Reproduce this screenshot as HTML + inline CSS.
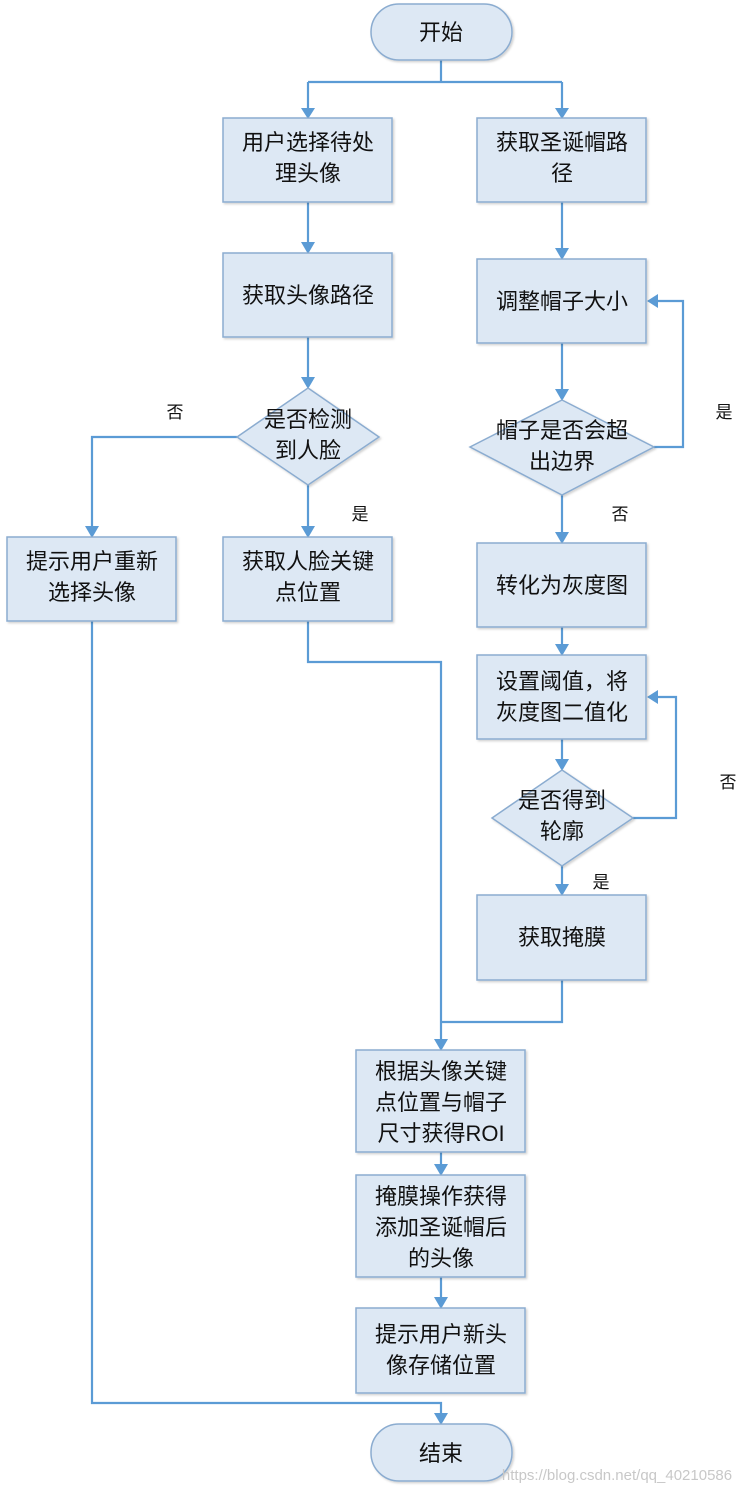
<!DOCTYPE html>
<html><head><meta charset="utf-8"><style>
html,body{margin:0;padding:0;background:#fff;}
svg{display:block;}
text{font-family:"Liberation Sans","Noto Sans CJK SC",sans-serif;font-size:22px;fill:#111;text-anchor:middle;}
.s{font-size:17px;}
.b{fill:#dde8f4;stroke:#8bacd0;stroke-width:1.5;}
.l{fill:none;stroke:#5b9bd5;stroke-width:2.2;}
.a{fill:#5b9bd5;}
</style></head><body>
<svg width="749" height="1493" viewBox="0 0 749 1493" xmlns="http://www.w3.org/2000/svg">
<defs><filter id="sh" x="-10%" y="-10%" width="130%" height="130%"><feDropShadow dx="1.5" dy="1.5" stdDeviation="1" flood-color="#000" flood-opacity="0.18"/></filter></defs>
<!-- connectors -->
<g class="l">
<path d="M441 60V82M308 82H562M308 82V110M562 82V110"/>
<path d="M308 202V245"/>
<path d="M562 202V251"/>
<path d="M308 337V380"/>
<path d="M237 437H92V529"/>
<path d="M308 485V529"/>
<path d="M562 343V392"/>
<path d="M654 447H683V301H655"/>
<path d="M562 495V535"/>
<path d="M562 627V647"/>
<path d="M562 739V762"/>
<path d="M633 818H676V697H655"/>
<path d="M562 866V887"/>
<path d="M308 621V662H441V1042"/>
<path d="M562 980V1022H441"/>
<path d="M441 1152V1167"/>
<path d="M441 1277V1300"/>
<path d="M92 621V1403H441V1416"/>
</g>
<g class="a">
<path d="M301 108L315 108L308 119Z"/>
<path d="M555 108L569 108L562 119Z"/>
<path d="M301 242L315 242L308 254Z"/>
<path d="M555 248L569 248L562 260Z"/>
<path d="M301 377L315 377L308 389Z"/>
<path d="M85 526L99 526L92 538Z"/>
<path d="M301 526L315 526L308 538Z"/>
<path d="M555 389L569 389L562 401Z"/>
<path d="M658 294L658 308L647 301Z"/>
<path d="M555 532L569 532L562 544Z"/>
<path d="M555 644L569 644L562 656Z"/>
<path d="M555 759L569 759L562 771Z"/>
<path d="M658 690L658 704L647 697Z"/>
<path d="M555 884L569 884L562 896Z"/>
<path d="M434 1039L448 1039L441 1051Z"/>
<path d="M434 1164L448 1164L441 1176Z"/>
<path d="M434 1297L448 1297L441 1309Z"/>
<path d="M434 1413L448 1413L441 1425Z"/>
</g>
<!-- shapes -->
<g filter="url(#sh)">
<rect class="b" x="371" y="4" width="141" height="56" rx="28"/>
<rect class="b" x="223" y="118" width="169" height="84"/>
<rect class="b" x="477" y="118" width="169" height="84"/>
<rect class="b" x="223" y="253" width="169" height="84"/>
<polygon class="b" points="308,388 379,437 308,485 237,437"/>
<rect class="b" x="7" y="537" width="169" height="84"/>
<rect class="b" x="223" y="537" width="169" height="84"/>
<rect class="b" x="477" y="259" width="169" height="84"/>
<polygon class="b" points="562,400 654,447 562,495 470,447"/>
<rect class="b" x="477" y="543" width="169" height="84"/>
<rect class="b" x="477" y="655" width="169" height="84"/>
<polygon class="b" points="562,770 633,818 562,866 492,818"/>
<rect class="b" x="477" y="895" width="169" height="85"/>
<rect class="b" x="356" y="1050" width="169" height="102"/>
<rect class="b" x="356" y="1175" width="169" height="102"/>
<rect class="b" x="356" y="1308" width="169" height="85"/>
<rect class="b" x="371" y="1424" width="141" height="57" rx="28"/>
</g>
<!-- labels -->
<text x="441" y="40">开始</text>
<text x="308" y="150">用户选择待处</text><text x="308" y="181">理头像</text>
<text x="562" y="150">获取圣诞帽路</text><text x="562" y="181">径</text>
<text x="308" y="303">获取头像路径</text>
<text x="308" y="427">是否检测</text><text x="308" y="458">到人脸</text>
<text x="92" y="569">提示用户重新</text><text x="92" y="600">选择头像</text>
<text x="308" y="569">获取人脸关键</text><text x="308" y="600">点位置</text>
<text x="562" y="309">调整帽子大小</text>
<text x="562" y="438">帽子是否会超</text><text x="562" y="469">出边界</text>
<text x="562" y="593">转化为灰度图</text>
<text x="562" y="689">设置阈值，将</text><text x="562" y="720">灰度图二值化</text>
<text x="562" y="808">是否得到</text><text x="562" y="839">轮廓</text>
<text x="562" y="945">获取掩膜</text>
<text x="441" y="1079">根据头像关键</text><text x="441" y="1110">点位置与帽子</text><text x="441" y="1141">尺寸获得ROI</text>
<text x="441" y="1204">掩膜操作获得</text><text x="441" y="1235">添加圣诞帽后</text><text x="441" y="1266">的头像</text>
<text x="441" y="1342">提示用户新头</text><text x="441" y="1373">像存储位置</text>
<text x="441" y="1461">结束</text>
<text class="s" x="175" y="418">否</text>
<text class="s" x="360" y="520">是</text>
<text class="s" x="724" y="418">是</text>
<text class="s" x="620" y="520">否</text>
<text class="s" x="728" y="788">否</text>
<text class="s" x="601" y="888">是</text>
<text x="617" y="1480" style="font-size:15px;fill:#c8c8c8;">https://blog.csdn.net/qq_40210586</text>
</svg>
</body></html>
